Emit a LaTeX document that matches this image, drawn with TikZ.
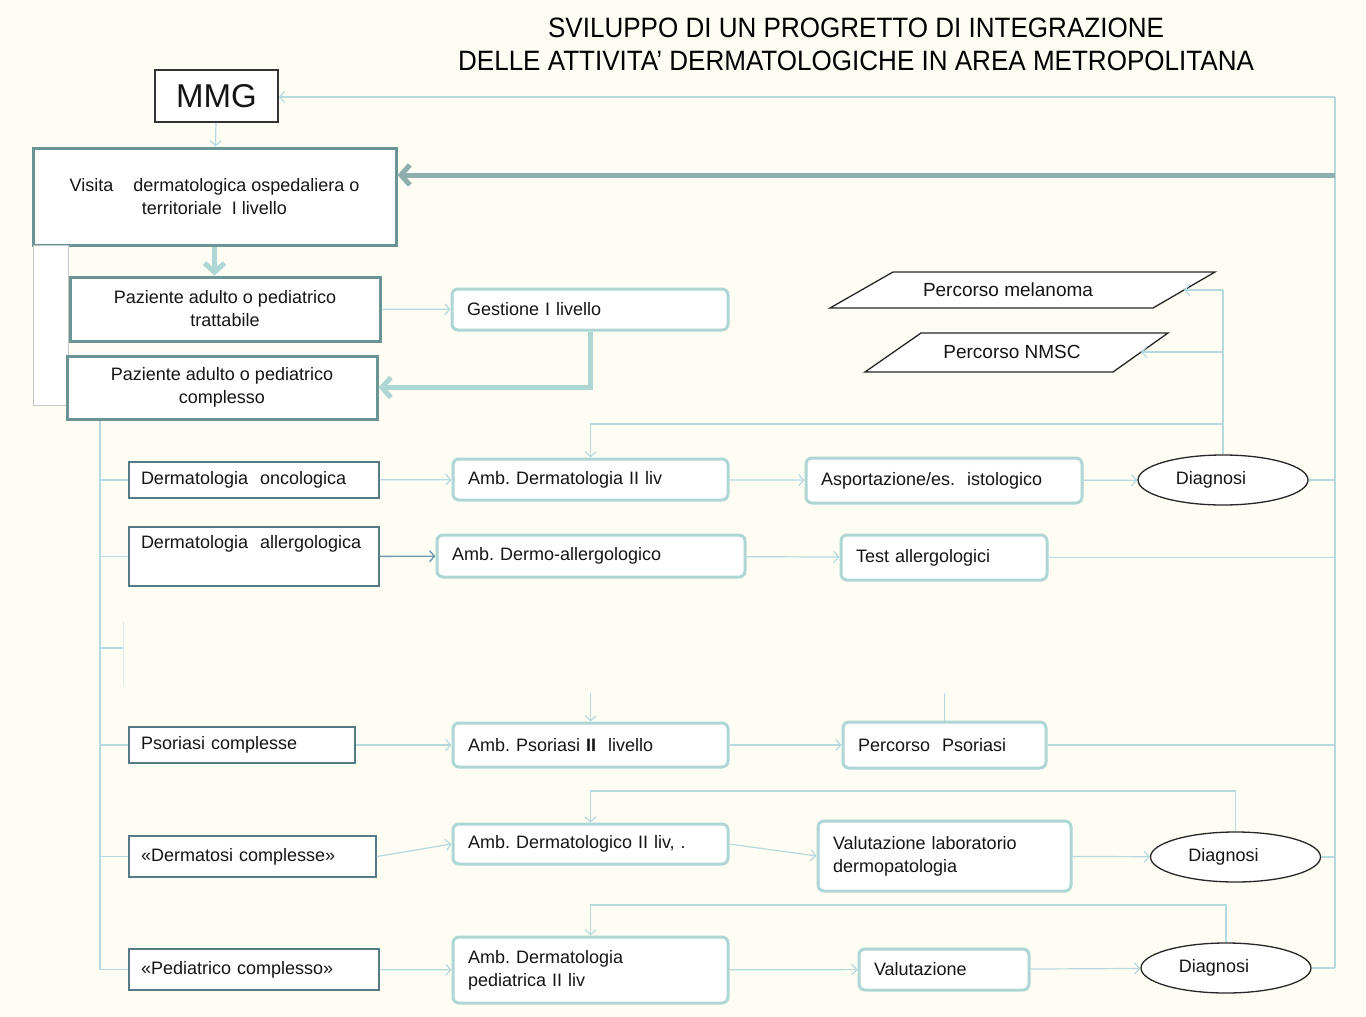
\documentclass[tikz,border=0pt]{standalone}
\usepackage{fontspec}
\setmainfont{Liberation Sans}
\newfontfamily\titlefont[FakeStretch=0.93]{Liberation Sans}
\usetikzlibrary{arrows.meta,shapes.geometric}
\definecolor{bgc}{HTML}{FEFDF4}
\definecolor{thinc}{HTML}{B5D9DD}
\definecolor{tealdark}{HTML}{6A9595}
\definecolor{teallight}{HTML}{AED6D4}
\definecolor{catb}{HTML}{557985}
\definecolor{steel}{HTML}{6E98AE}
\definecolor{txt}{HTML}{151515}
\begin{document}
\begin{tikzpicture}[x=1pt,y=-1pt,
  every node/.style={font=\fontsize{18}{23}\selectfont, text=txt},
  headbox/.style={draw=tealdark, line width=3pt, fill=white, align=center, inner sep=0pt},
  catbox/.style={draw=catb, line width=1.3pt, fill=white, align=left, inner xsep=12pt, inner ysep=0pt},
  ambbox/.style={draw=teallight, line width=3pt, fill=white, rounded corners=6pt, align=left, inner xsep=15pt, inner ysep=0pt},
  diag/.style={ellipse, draw=black!85, line width=1.3pt, fill=white, minimum width=170pt, minimum height=50pt, inner sep=0pt},
  parab/.style={draw=black!85, line width=1.3pt, fill=white},
  conn/.style={draw=thinc, line width=1.2pt, -{Straight Barb[length=5pt,width=11pt]}},
  link/.style={draw=thinc, line width=1.2pt},
  bigarrow/.style={line width=5pt, -{Straight Barb[length=9pt,width=20pt]}}]

\fill[bgc] (0,0) rectangle (1366,1017);
\useasboundingbox (0,0) rectangle (1366,1017);

% title
\node[font=\titlefont\fontsize{28}{33}\selectfont, align=center, text=black] (title) at (856,44)
  {SVILUPPO DI UN PROGRETTO DI INTEGRAZIONE\\DELLE ATTIVITA’ DERMATOLOGICHE IN AREA METROPOLITANA};

% right-side coordinates
\coordinate (rtop) at (1335,97);
\coordinate (rvis) at (1335,175);
\coordinate (rbot) at (1335,968);
\coordinate (ls) at (100,969.5);

% top nodes
\node[draw=black!80, line width=1.6pt, fill=white, minimum width=123pt, minimum height=52pt,
      inner sep=0pt, font=\fontsize{33}{36}\selectfont] (mmg) at (216.5,96) {MMG};
\node[headbox, minimum width=363pt, minimum height=97pt] (vis) at (214.5,196.5)
  {Visita\hspace{20pt}dermatologica ospedaliera o\\territoriale\ \ I livello};
\draw[draw=gray!45, fill=white, line width=1pt] (33,245) rectangle (68,405);
\node[headbox, minimum width=310pt, minimum height=64pt] (trat) at (225,309)
  {Paziente adulto o pediatrico\\trattabile};
\node[headbox, minimum width=310pt, minimum height=63pt] (comp) at (222,387.5)
  {Paziente adulto o pediatrico\\complesso};
\node[ambbox, text width=246pt, minimum height=41pt] (gest) at (590,309.5) {Gestione I livello};

% parallelograms
\draw[parab] (830,308) -- (893,272) -- (1215,272) -- (1153,308) -- cycle;
\node[font=\fontsize{19}{23}\selectfont] (mel) at (1008,290) {Percorso melanoma};
\coordinate (melin) at (1184,290);
\draw[parab] (865,372) -- (921,333) -- (1168,333) -- (1113,372) -- cycle;
\node[font=\fontsize{19}{23}\selectfont] (nmsc) at (1012,352) {Percorso NMSC};
\coordinate (nmscin) at (1141,352);

% category boxes
\node[catbox, text width=226pt, minimum height=36pt] (onc) at (254,480) {Dermatologia\ \ oncologica};
\node[catbox, text width=226pt, minimum height=59pt] (all) at (254,556.5) {Dermatologia\ \ allergologica\\\strut};
\node[catbox, text width=202pt, minimum height=36pt] (pso) at (242,745) {Psoriasi complesse};
\node[catbox, text width=223pt, minimum height=41pt] (dtosi) at (252.5,856.5) {«Dermatosi complesse»};
\node[catbox, text width=226pt, minimum height=41pt] (ped) at (254,969.5) {«Pediatrico complesso»};

% second column
\node[ambbox, text width=245pt, minimum height=41pt] (ambd) at (590.5,479.5) {Amb.\ Dermatologia II liv};
\node[ambbox, text width=278pt, minimum height=42pt] (amba) at (591,556) {Amb.\ Dermo-allergologico};
\node[ambbox, text width=245pt, minimum height=44pt] (ambp) at (590.5,745) {Amb.\ Psoriasi \textbf{II}\ \ livello};
\node[ambbox, text width=245pt, minimum height=40pt] (ambdt) at (590.5,844) {Amb.\ Dermatologico II liv, .};
\node[ambbox, text width=245pt, minimum height=66pt] (ambped) at (590.5,970) {Amb.\ Dermatologia\\pediatrica II liv};

% third column
\node[ambbox, text width=246pt, minimum height=45pt] (asp) at (944,480.5) {Asportazione/es.\ \ istologico};
\node[ambbox, text width=176pt, minimum height=45pt] (test) at (944,557.5) {Test allergologici};
\node[ambbox, text width=173pt, minimum height=46pt] (percp) at (944.5,745) {Percorso\ \ Psoriasi};
\node[ambbox, text width=223pt, minimum height=70pt] (vallab) at (944.5,856) {Valutazione laboratorio\\dermopatologia};
\node[ambbox, text width=140pt, minimum height=41pt] (val) at (944,969.5) {Valutazione};

% diagnosis
\node[diag] (d1) at (1223,480) {Diagnosi\kern24pt};
\node[diag] (d2) at (1235.5,857) {Diagnosi\kern24pt};
\node[diag] (d3) at (1226,968) {Diagnosi\kern24pt};

% right feedback
\draw[link] (rtop) -- (rbot);
\draw[conn] (rtop) -- (rtop -| mmg.east);
\draw[bigarrow, draw=tealdark!75] (rvis) -- (rvis -| vis.east);

% top flow
\draw[conn] (mmg) -- (vis);
\draw[bigarrow, draw=teallight] (vis.south) -- (vis.south |- trat.north);
\draw[conn] (trat) -- (gest);
\draw[bigarrow, draw=teallight] (gest.south) -- (gest.south |- comp.east) -- (comp.east);

% left spine
\draw[link] (ls |- comp.south) -- (ls);
\draw[link] (ls |- onc.west) -- (onc.west);
\draw[link] (ls |- all.west) -- (all.west);
\draw[link] (ls |- 0,648) -- (123,648);
\draw[draw=thinc!50, line width=1pt] (123,622) -- (123,685);
\draw[link] (ls |- pso.west) -- (pso.west);
\draw[link] (ls |- dtosi.west) -- (dtosi.west);
\draw[link] (ls) -- (ped.west);

% rows
\draw[conn] (onc) -- (ambd);
\draw[conn] (ambd) -- (asp);
\draw[conn] (asp) -- (d1);
\draw[link] (d1.east) -- (d1.east -| rtop);

\draw[conn, draw=steel, line width=1.4pt] (all) -- (amba);
\draw[conn] (amba) -- (test);
\draw[link] (test.east) -- (test.east -| rtop);

\draw[conn] (pso) -- (ambp);
\draw[conn] (ambp) -- (percp);
\draw[link] (percp.east) -- (percp.east -| rtop);
\draw[conn] (ambp.north |- 0,693) -- (ambp.north);
\draw[link] (percp.north |- 0,693) -- (percp.north);

\draw[conn] (dtosi.east) -- (ambdt.west);
\draw[conn] (ambdt.east) -- (vallab.west);
\draw[conn] (vallab) -- (d2);
\draw[link] (d2.east) -- (d2.east -| rtop);

\draw[conn] (ped) -- (ambped);
\draw[conn] (ambped) -- (val);
\draw[conn] (val) -- (d3);
\draw[link] (d3.east) -- (d3.east -| rtop);

% diagnosis feedback
\draw[link] (d1.north) -- (d1.north |- melin);
\draw[conn] (d1.north |- melin) -- (melin);
\draw[conn] (d1.north |- nmscin) -- (nmscin);
\draw[conn] (d1.north |- 0,424) -- (ambd.north |- 0,424) -- (ambd.north);
\draw[conn] (d2.north) -- (d2.north |- 0,791) -- (ambdt.north |- 0,791) -- (ambdt.north);
\draw[conn] (d3.north) -- (d3.north |- 0,905) -- (ambped.north |- 0,905) -- (ambped.north);
\end{tikzpicture}
\end{document}
